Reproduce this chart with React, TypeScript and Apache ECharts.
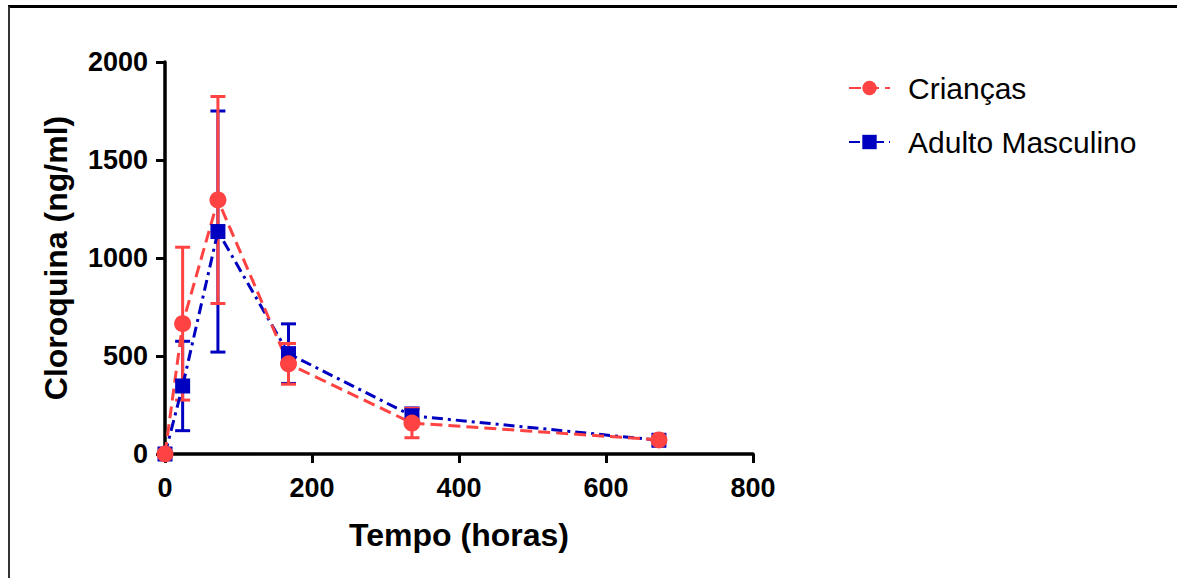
import React, { useEffect, useRef } from "react";
import * as echarts from "echarts";

const hours = [0, 24, 72, 168, 336, 672];
const criancasMean = [0, 665, 1296, 460, 158, 72];
const criancasSD = [0, 390, 528, 104, 75, 8];
const adultoMean = [0, 347, 1135, 512, 195, 70];
const adultoSD = [0, 228, 615, 152, 40, 6];
const xTicks = { min: 0, max: 800, interval: 200 };
const yTicks = { min: 0, max: 2000, interval: 500 };

const RED = "#FF4242";
const BLUE = "#0000C0";
const FONT = "'Liberation Sans', Arial, sans-serif";

function errData(mean: number[], sd: number[]) {
  return hours
    .map((h, i) => [h, mean[i] - sd[i], mean[i] + sd[i]])
    .filter((_, i) => sd[i] > 0);
}

function errSeries(name: string, color: string, mean: number[], sd: number[]) {
  return {
    type: "custom",
    name,
    clip: false,
    silent: true,
    encode: { x: 0, y: [1, 2] },
    data: errData(mean, sd),
    renderItem: (params: any, api: any) => {
      const x = api.value(0);
      const lo = api.value(1);
      const hi = api.value(2);
      const top = api.coord([x, hi]);
      const bot = api.coord([x, lo]);
      const hw = 7.5;
      const style = { stroke: color, lineWidth: 3, fill: "none" };
      return {
        type: "group",
        children: [
          { type: "line", shape: { x1: top[0], y1: top[1], x2: bot[0], y2: bot[1] }, style },
          { type: "line", shape: { x1: top[0] - hw, y1: top[1], x2: top[0] + hw, y2: top[1] }, style },
          { type: "line", shape: { x1: bot[0] - hw, y1: bot[1], x2: bot[0] + hw, y2: bot[1] }, style },
        ],
      };
    },
  };
}

export default function App() {
  const ref = useRef<HTMLDivElement>(null);
  useEffect(() => {
    if (!ref.current) return;
    const chart = echarts.init(ref.current, null, { renderer: "svg" });
    const axisCommon = {
      axisLine: { show: true, lineStyle: { color: "#000", width: 3.5 } },
      axisTick: { show: true, length: 9, lineStyle: { color: "#000", width: 3 } },
      splitLine: { show: false },
      nameLocation: "middle",
      nameTextStyle: { fontFamily: FONT, fontWeight: "bold", fontSize: 32, color: "#000" },
      axisLabel: {
        fontFamily: FONT,
        fontWeight: "bold",
        fontSize: 27,
        color: "#000",
        formatter: (v: number) => String(v),
      },
    };
    chart.setOption({
      animation: false,
      backgroundColor: "#fff",
      grid: { left: 165, right: 424, top: 62, bottom: 124, containLabel: false },
      xAxis: {
        type: "value",
        ...xTicks,
        ...axisCommon,
        name: "Tempo (horas)",
        nameGap: 65,
        axisLabel: { ...axisCommon.axisLabel, margin: 20 },
      },
      yAxis: {
        type: "value",
        ...yTicks,
        ...axisCommon,
        name: "Cloroquina (ng/ml)",
        nameGap: 93,
        axisLabel: { ...axisCommon.axisLabel, margin: 17 },
      },
      legend: {
        orient: "vertical",
        left: 843,
        top: 68,
        itemWidth: 41,
        itemHeight: 18,
        itemGap: 24,
        data: ["Crianças", "Adulto Masculino"],
        textStyle: { fontFamily: FONT, fontSize: 30, color: "#000", padding: [0, 0, 0, 13] },
      },
      graphic: [
        { type: "line", shape: { x1: 8, y1: 6.5, x2: 1177, y2: 6.5 }, style: { stroke: "#000", lineWidth: 3 } },
        { type: "line", shape: { x1: 9, y1: 6.5, x2: 9, y2: 578 }, style: { stroke: "#333", lineWidth: 2 } },
      ],
      series: [
        errSeries("errA", BLUE, adultoMean, adultoSD),
        {
          type: "line",
          name: "Adulto Masculino",
          data: hours.map((h, i) => [h, adultoMean[i]]),
          symbol: "rect",
          symbolSize: 15,
          itemStyle: { color: BLUE },
          lineStyle: { color: BLUE, width: 3, type: [11, 5, 3, 5] },
          clip: false,
        },
        errSeries("errC", RED, criancasMean, criancasSD),
        {
          type: "line",
          name: "Crianças",
          data: hours.map((h, i) => [h, criancasMean[i]]),
          symbol: "circle",
          symbolSize: 17,
          itemStyle: { color: RED },
          lineStyle: { color: RED, width: 3, type: [12, 6] },
          clip: false,
        },
      ],
    });
    return () => chart.dispose();
  }, []);
  return (
    <div
      ref={ref}
      style={{ position: "fixed", left: 0, top: 0, width: 1177, height: 578 }}
    />
  );
}
